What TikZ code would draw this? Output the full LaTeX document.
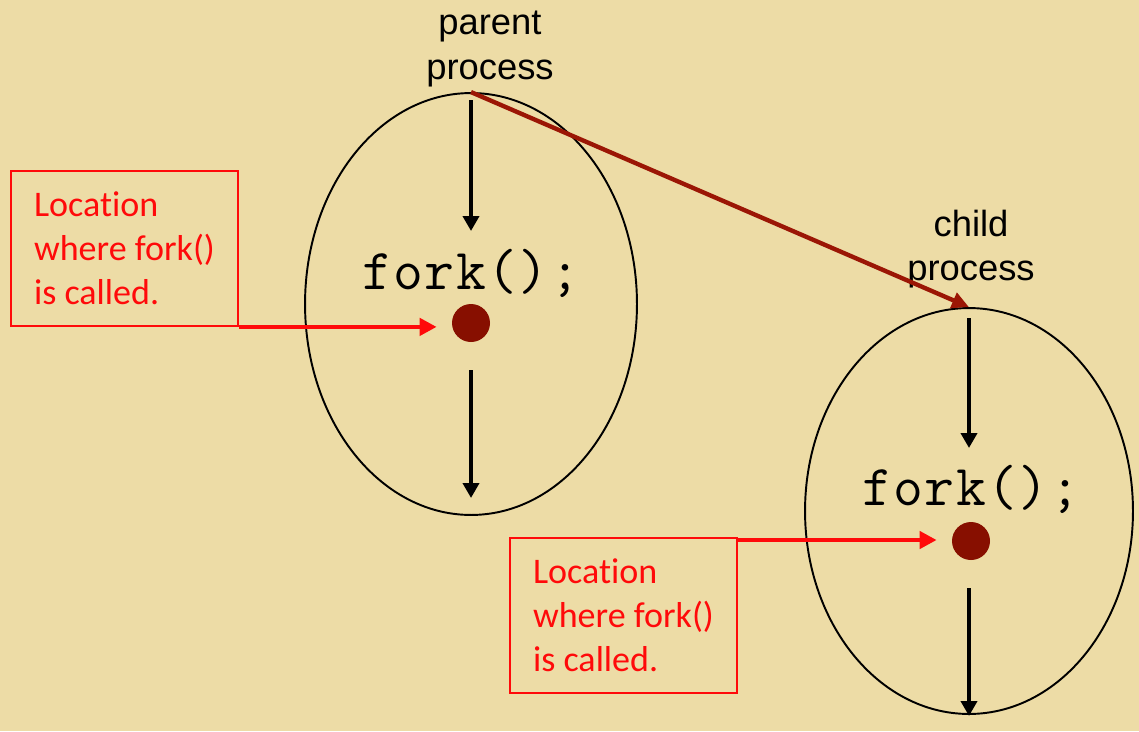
\documentclass[tikz,border=0pt]{standalone}
\usepackage{fontspec}
\setmainfont{Liberation Sans}
\newfontfamily\codefont{Latin Modern Mono}[LetterSpace=2.5]
\newfontfamily\notefont{Carlito}[Ligatures=NoCommon]
\usetikzlibrary{shapes.geometric,arrows.meta}
\definecolor{parchment}{RGB}{237,220,166}
\definecolor{forkline}{RGB}{155,22,5}
\definecolor{dotred}{RGB}{135,15,0}
\definecolor{notered}{RGB}{255,10,10}

\begin{document}
\begin{tikzpicture}[x=0.02cm, y=-0.02cm,
    proc/.style={draw, ellipse, line width=1.1pt, inner sep=0pt},
    flow/.style={line width=2.2pt, -{Triangle[length=0.3cm,width=0.32cm]}},
    pointer/.style={notered, line width=2.7pt, -{Triangle[length=0.34cm,width=0.34cm]}},
    note/.style={draw=notered, text=notered, line width=1.1pt, align=left, anchor=north west,
        minimum width=4.54cm, minimum height=3.1cm, font=\notefont\fontsize{20.5}{25}\selectfont},
    call/.style={anchor=base, inner sep=0pt, font=\codefont\fontsize{33}{38}\selectfont},
    spot/.style={circle, fill=dotred, minimum size=0.76cm, inner sep=0pt},
    label/.style={align=center, font=\fontsize{20.7}{25.5}\selectfont}]
\fill[parchment] (0,0) rectangle (1139,731);
\useasboundingbox (0,0) rectangle (1139,731);
% the two processes
\node[proc, minimum width=6.64cm, minimum height=8.44cm] (parent) at (471,304) {};
\node[proc, minimum width=6.56cm, minimum height=8.12cm] (child) at (969,511) {};
\node[label] (plabel) at (490,49) {parent\\process};
\node[label] (clabel) at (971,249) {child\\process};
\node[call] (pfork) at (471,289) {fork();};
\node[call] (cfork) at (971,505) {fork();};
\node[spot] (pdot) at (471,323) {};
\node[spot] (cdot) at (971,541) {};
% flow of control
\coordinate (ptop) at (471,100); \coordinate (pmid) at (471,231);
\coordinate (plow) at (471,370); \coordinate (pend) at (471,498);
\coordinate (ctop) at (969,318); \coordinate (cmid) at (969,448);
\coordinate (clow) at (969,588); \coordinate (cend) at (969,716);
\draw[flow] (ptop) -- (pmid);
\draw[flow] (plow) -- (pend);
\draw[flow] (ctop) -- (cmid);
\draw[flow] (clow) -- (cend);
\draw[forkline, line width=2.5pt, -{Triangle[length=0.34cm,width=0.32cm]}] (parent.north) -- (child.north);
% where fork() is called
\node[note] (pnote) at (10,170) {Location\\where fork()\\is called.};
\node[note] (cnote) at (509,537) {Location\\where fork()\\is called.};
\draw[pointer] (pnote.south east) -- ([xshift=-0.3cm]pdot.west |- pnote.south east);
\draw[pointer] ([yshift=-0.06cm]cnote.north east) -- ([xshift=-0.3cm,yshift=-0.06cm]cdot.west |- cnote.north east);
\end{tikzpicture}
\end{document}
